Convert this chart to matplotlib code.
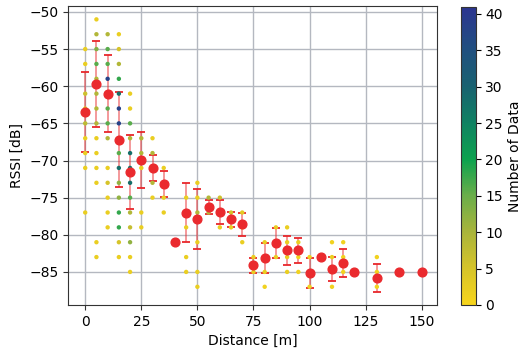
import numpy as np
import matplotlib
matplotlib.use("Agg")
import matplotlib.pyplot as plt
from matplotlib.colors import LinearSegmentedColormap

# raw measurements: distance [m], rssi [dB], how many samples at that point
scatter_dist = ([0]*9 + [5]*14 + [10]*13 + [15]*16 + [20]*13 + [25]*5 + [30]*5 + [35]*4 + [40]
                + [45]*5 + [50]*6 + [55]*2 + [60]*3 + [65]*2 + [70]*3 + [75]*2 + [80]*4 + [85]*3
                + [90]*4 + [95]*3 + [100]*3 + [105] + [110]*4 + [115]*3 + [120] + [130]*3 + [140] + [150])
scatter_rssi = [-55, -57, -61, -63, -65, -67, -69, -71, -77,
                -51, -53, -55, -57, -59, -61, -63, -65, -67, -69, -71, -73, -81, -83,
                -53, -55, -57, -59, -61, -63, -65, -67, -71, -73, -75, -77, -79,
                -53, -55, -57, -59, -61, -63, -65, -67, -69, -71, -73, -75, -77, -79, -81, -83,
                -61, -63, -65, -67, -69, -71, -73, -75, -77, -79, -81, -83, -85,
                -67, -69, -71, -77, -79,
                -67, -69, -71, -73, -75,
                -71, -73, -75, -77,
                -81,
                -75, -77, -79, -83, -85,
                -73, -75, -77, -81, -85, -87,
                -75, -77,
                -75, -77, -79,
                -77, -79,
                -77, -79, -81,
                -83, -85,
                -81, -83, -85, -87,
                -79, -81, -83,
                -79, -81, -83, -85,
                -81, -83, -85,
                -83, -85, -87,
                -83,
                -81, -83, -85, -87,
                -81, -83, -85,
                -85,
                -83, -85, -87,
                -85,
                -85]
scatter_count = [2, 2, 6, 3, 8, 2, 2, 2, 2,
                 2, 9, 13, 16, 9, 9, 9, 9, 2, 2, 2, 2, 2, 2,
                 9, 16, 16, 38, 9, 16, 16, 9, 2, 5, 2, 2, 2,
                 2, 5, 9, 18, 28, 38, 38, 20, 16, 28, 12, 12, 18, 18, 5, 2,
                 2, 2, 16, 9, 28, 28, 28, 16, 9, 7, 12, 2, 2,
                 9, 9, 2, 2, 2,
                 2, 9, 3, 9, 2,
                 2, 2, 2, 2,
                 1,
                 2, 5, 2, 2, 2,
                 2, 2, 9, 2, 2, 2,
                 9, 9,
                 6, 2, 2,
                 5, 2,
                 3, 2, 2,
                 2, 2,
                 2, 1, 2, 1,
                 2, 1, 2,
                 2, 2, 2, 2,
                 2, 1, 1,
                 1, 1, 1,
                 1,
                 1, 2, 2, 1,
                 1, 1, 1,
                 1,
                 1, 1, 1,
                 1,
                 1]

# mean and std per distance
mean_dist = [0, 5, 10, 15, 20, 25, 30, 35, 40, 45, 50, 55, 60, 65, 70, 75, 80, 85, 90, 95,
             100, 105, 110, 115, 120, 130, 140, 150]
mean_rssi = [-63.5, -59.7, -61.0, -67.2, -71.5, -69.9, -71.0, -73.2, -81.0, -77.0, -77.9, -76.2,
             -76.9, -77.9, -78.6, -84.1, -83.1, -81.1, -82.1, -82.1, -85.1, -83.0, -84.6, -83.8,
             -85.0, -85.8, -85.0, -85.0]
std_rssi = [5.4, 5.8, 5.2, 6.4, 5.0, 3.75, 1.8, 1.75, 0, 4.0, 4.0, 0.95,
            1.6, 1.0, 1.55, 1.0, 2.0, 2.0, 1.9, 1.7, 2.0, 0, 1.6, 1.9,
            0, 1.9, 0, 0]

cmap = LinearSegmentedColormap.from_list("cnt", [
    (0.0, "#f7d51c"), (5/41, "#d6c42a"), (10/41, "#a9b43b"), (15/41, "#6aae4a"),
    (20/41, "#0da24e"), (25/41, "#0f8262"), (30/41, "#196270"), (35/41, "#20507f"),
    (1.0, "#2c3590")])

fig = plt.figure(figsize=(5.22, 3.53), dpi=100)
ax = fig.add_axes([0.131, 0.136, 0.707, 0.847])
cax = fig.add_axes([0.883, 0.136, 0.028, 0.845])

ax.grid(True, color="#b4b8c0", linewidth=1.0, zorder=0)
ax.set_axisbelow(True)

sc = ax.scatter(scatter_dist, scatter_rssi, c=scatter_count, cmap=cmap, vmin=0, vmax=41,
                s=10, edgecolors="none", zorder=3)
eb = ax.errorbar(mean_dist, mean_rssi, yerr=std_rssi, fmt="none", ecolor="#e8262b",
                 elinewidth=1.2, capsize=3, capthick=1.3, zorder=2)
eb[2][0].set_alpha(0.55)
ax.plot(mean_dist, mean_rssi, "o", color="#ea2a2e", markersize=6.3, zorder=4, linestyle="none")

ax.set_xlim(-7.5, 157)
ax.set_ylim(-89.45, -49.2)
ax.set_xticks(np.arange(0, 151, 25))
ax.set_yticks(np.arange(-85, -49, 5))
ax.set_xlabel("Distance [m]", fontsize=10)
ax.set_ylabel("RSSI [dB]", fontsize=10)
ax.tick_params(labelsize=10, color="#333333")
for s in ax.spines.values():
    s.set_color("#333333")

cb = fig.colorbar(sc, cax=cax)
cb.set_ticks(np.arange(0, 41, 5))
cb.ax.tick_params(labelsize=10)
cb.set_label("Number of Data", fontsize=10)
cb.outline.set_edgecolor("#333333")

fig.savefig("out.png", dpi=100)
